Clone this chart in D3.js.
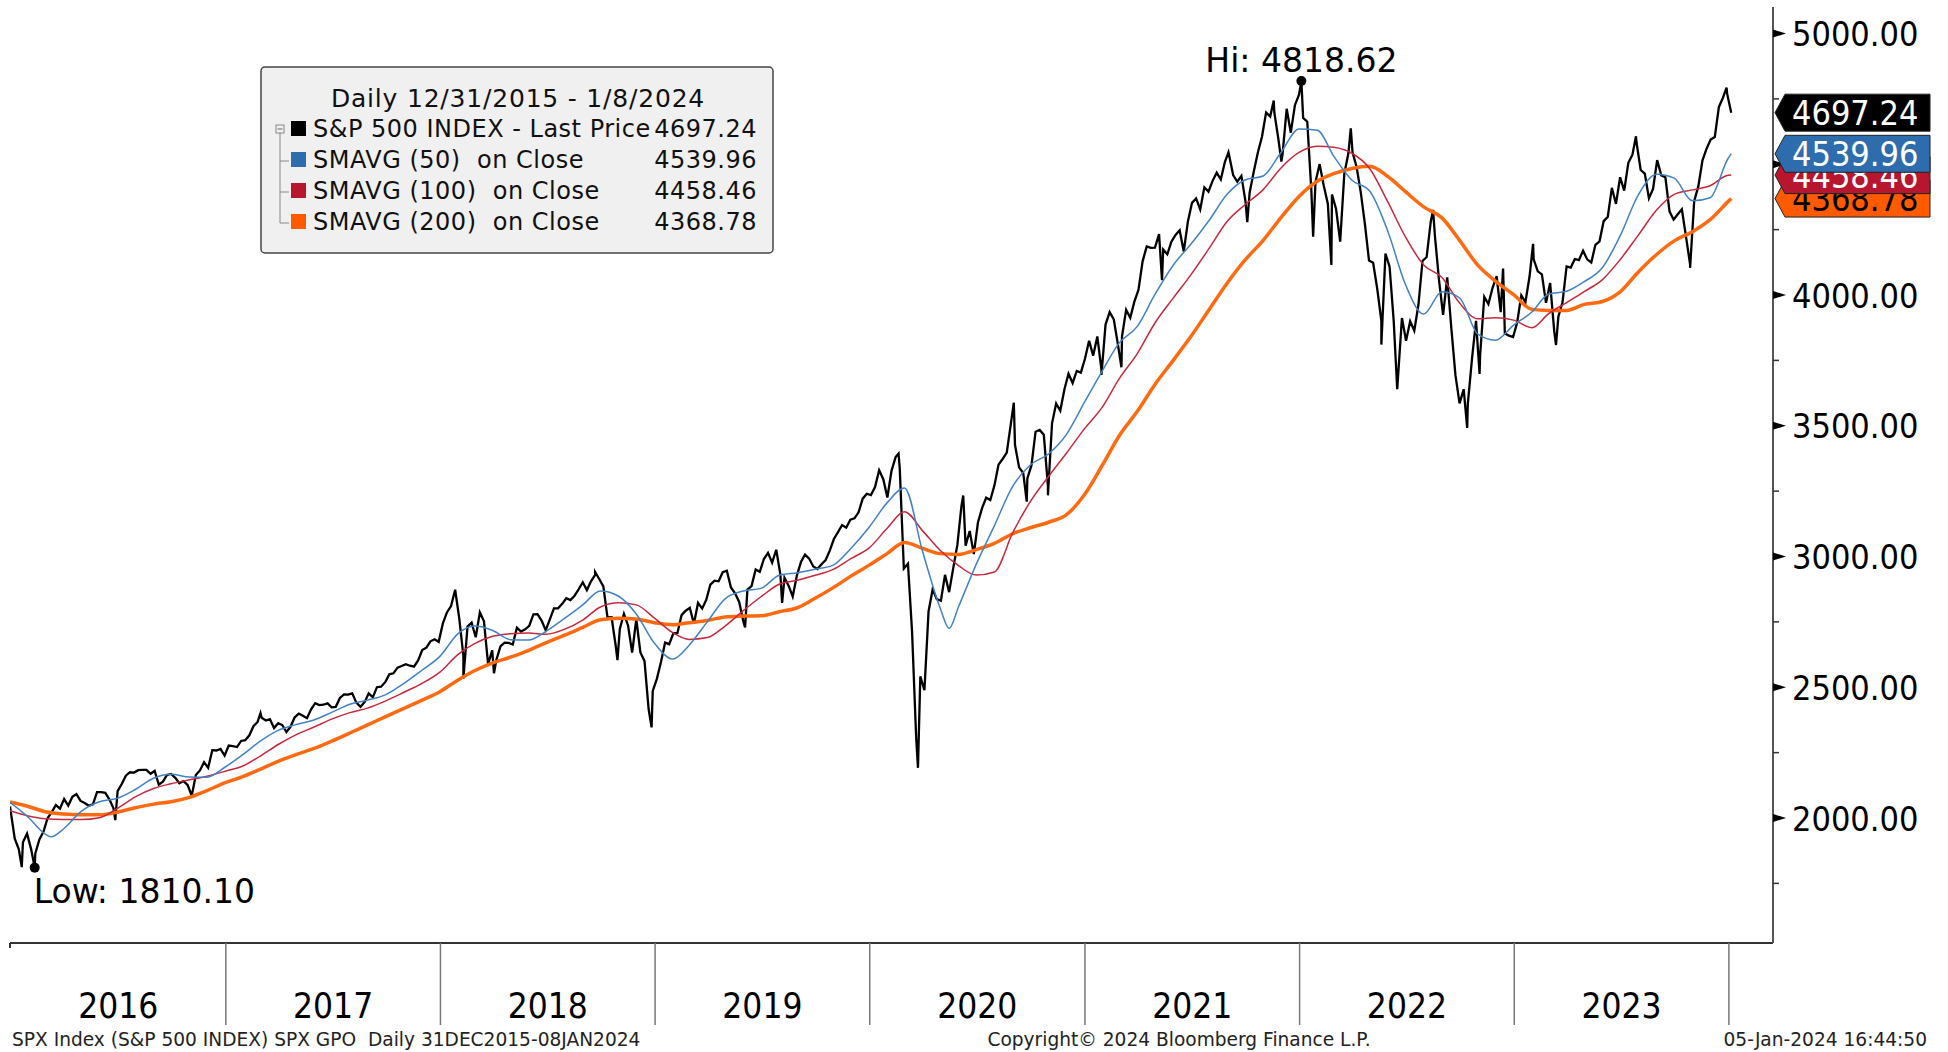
<!DOCTYPE html>
<html>
<head>
<meta charset="utf-8">
<script src="https://cdn.jsdelivr.net/npm/d3@7"></script>
<style>
  html, body { margin: 0; padding: 0; background: #fff; }
  svg { display: block; }
  text { font-family: "DejaVu Sans Condensed", "DejaVu Sans", sans-serif; font-stretch: condensed; }
  text.wide { font-family: "DejaVu Sans", sans-serif; font-stretch: normal; }
</style>
</head>
<body>
<svg id="chart" width="1948" height="1052"></svg>
<script>
// ---------------- data ----------------
// weekly (Friday) closes, S&P 500
const spxStart = [["2015-12-31", 2043.94]];
const spx2016 = [1922.03,1880.33,1906.90,1940.24,1880.05,1864.78,1917.78,1948.05,1999.99,2022.19,2049.58,2035.94,2072.78,2047.60,2080.73,2091.58,2065.30,2057.14,2046.61,2052.32,2099.06,2099.13,2096.07,2071.22,2037.41,2102.95,2129.90,2161.74,2175.03,2173.60,2182.87,2184.05,2183.87,2169.04,2179.98,2127.81,2139.16,2164.69,2168.27,2153.74,2132.98,2141.16,2126.41,2085.18,2164.45,2181.90,2213.35,2191.95,2259.53,2258.07,2263.79,2238.83];
const spx2017 = [2276.98,2274.64,2271.31,2294.69,2297.42,2316.10,2351.16,2367.34,2383.12,2372.60,2378.25,2343.98,2362.72,2355.54,2328.95,2348.69,2384.20,2399.29,2390.90,2381.73,2415.82,2439.07,2431.77,2433.15,2438.30,2423.41,2425.18,2459.27,2472.54,2472.10,2476.83,2441.32,2425.55,2443.05,2476.55,2461.43,2500.23,2502.22,2519.36,2549.33,2553.17,2575.21,2581.07,2587.84,2582.30,2578.85,2602.42,2642.22,2651.50,2675.81,2683.34,2673.61];
const spx2018 = [2743.15,2786.24,2810.30,2872.87,2762.13,2619.55,2732.22,2747.30,2691.25,2786.57,2752.01,2588.26,2640.87,2604.47,2656.30,2670.14,2669.91,2663.42,2727.72,2712.97,2721.33,2734.62,2779.03,2779.42,2754.88,2718.37,2759.82,2801.31,2801.83,2818.82,2840.35,2833.28,2850.13,2874.69,2901.52,2871.68,2904.98,2929.67,2913.98,2885.57,2767.13,2767.78,2658.69,2723.06,2781.01,2736.27,2632.56,2760.17,2633.08,2599.95,2416.62,2485.74];
const spx2019 = [2531.94,2596.26,2670.71,2664.76,2706.53,2707.88,2775.60,2792.67,2803.69,2743.07,2822.48,2800.71,2834.40,2892.74,2907.41,2905.03,2939.88,2945.64,2881.40,2859.53,2826.06,2752.06,2873.34,2886.98,2950.46,2941.76,2990.41,3013.77,2976.61,3025.86,2932.05,2918.65,2888.68,2847.11,2926.46,2978.71,3007.39,2992.07,2961.79,2952.01,2970.27,2986.20,3022.55,3066.91,3093.08,3120.46,3110.29,3140.98,3145.91,3168.80,3221.22,3240.02];
const spx2020 = [3234.85,3265.35,3329.62,3295.47,3225.52,3327.71,3380.16,3337.75,2954.22,2972.37,2711.02,2304.92,2541.47,2488.65,2789.82,2874.56,2836.74,2830.71,2929.80,2863.70,2955.45,3044.31,3193.93,3041.31,3097.74,3009.05,3130.01,3185.04,3224.73,3215.63,3271.12,3351.28,3372.85,3397.16,3508.01,3426.96,3340.97,3319.47,3298.46,3348.44,3477.13,3483.81,3465.39,3269.96,3509.44,3585.15,3557.54,3638.35,3699.12,3663.46,3709.41,3703.06,3756.07];
const spx2021 = [3824.68,3768.25,3841.47,3714.24,3886.83,3934.83,3906.71,3811.15,3841.94,3943.34,3913.10,3974.54,4019.87,4128.80,4185.47,4180.17,4181.17,4232.60,4173.85,4155.86,4204.11,4229.89,4247.44,4166.45,4280.70,4352.34,4369.55,4327.16,4411.79,4395.26,4436.52,4468.00,4441.67,4509.37,4535.43,4458.58,4432.99,4455.48,4357.04,4391.34,4471.37,4544.90,4605.38,4697.53,4682.85,4697.96,4594.62,4538.43,4712.02,4620.64,4725.79,4766.18];
const spx2022 = [4677.03,4662.85,4397.94,4431.85,4500.53,4418.64,4348.87,4384.65,4328.87,4204.31,4463.12,4543.06,4545.86,4488.28,4392.59,4271.78,4131.93,4123.34,4023.89,3901.36,4158.24,4108.54,3900.86,3674.84,3911.74,3825.33,3899.38,3863.16,3961.63,4130.29,4145.19,4280.15,4228.48,4057.66,3924.26,4067.36,3873.33,3693.23,3585.62,3639.66,3583.07,3752.75,3901.06,3770.55,3992.93,3965.34,4026.12,4071.70,3934.38,3852.36,3844.82,3839.50];
const spx2023 = [3895.08,3999.09,3972.61,4070.56,4136.48,4090.46,4079.09,3970.04,4045.64,3861.59,3916.64,3970.99,4109.31,4105.02,4137.64,4133.52,4169.48,4136.25,4124.08,4191.98,4205.45,4282.37,4298.86,4409.59,4348.33,4450.38,4398.95,4505.42,4536.34,4582.23,4478.03,4464.05,4369.71,4405.71,4515.77,4457.49,4450.32,4320.06,4288.05,4308.50,4327.78,4224.16,4117.37,4358.34,4415.24,4514.02,4559.34,4594.63,4604.37,4719.19,4754.63,4769.83];
const spx2024 = [4697.24];
// intraday extremes seen as spikes in the bars
const spxSpikes = [["2016-01-20",1812.29],["2016-02-11",1810.10],["2016-06-27",1991.68],["2016-11-04",2083.79],["2017-03-01",2400.98],["2018-01-26",2872.87],["2018-02-09",2532.69],["2018-04-02",2553.80],["2018-09-21",2940.91],["2018-10-29",2603.54],["2018-12-26",2346.58],["2019-06-03",2728.81],["2019-08-05",2822.12],["2020-02-19",3393.52],["2020-03-23",2191.86],["2020-06-08",3233.13],["2020-09-02",3588.11],["2020-09-24",3209.45],["2020-10-30",3233.94],["2021-01-29",3694.12],["2021-03-04",3723.34],["2021-05-12",4056.88],["2021-09-02",4545.85],["2021-10-04",4278.94],["2021-11-18",4743.83],["2021-12-01",4510.27],["2022-01-04",4818.62],["2022-01-24",4222.62],["2022-02-24",4114.65],["2022-03-29",4637.30],["2022-05-20",3810.32],["2022-06-16",3639.77],["2022-08-16",4325.28],["2022-10-13",3491.58],["2022-11-03",3698.15],["2022-12-13",4100.96],["2023-02-02",4195.44],["2023-03-13",3808.86],["2023-07-27",4607.07],["2023-10-27",4103.78],["2023-12-28",4793.30]];

// moving averages, month-end values Dec 2015 .. Dec 2023, then 5 Jan 2024
const sma50 = [2060,
  2003,1938,1958,2025,2062,2075,2109,2152,2167,2157,2156,2195,
  2244,2293,2335,2357,2375,2404,2435,2451,2472,2515,2564,2618,
  2705,2734,2717,2682,2681,2715,2763,2815,2868,2848,2780,2668,
  2608,2661,2751,2838,2868,2878,2928,2938,2951,2967,3031,3112,
  3207,3262,3018,2801,2808,2970,3118,3268,3350,3392,3465,3589,
  3712,3816,3880,4002,4114,4194,4285,4386,4440,4455,4544,4635,
  4630,4531,4439,4398,4244,4040,3927,4012,3989,3850,3827,3885,
  3935,4003,4014,4051,4105,4226,4383,4462,4447,4360,4372,4524,
  4539.96];
const sma50Extra = [["2016-03-10",1928],["2020-05-15",2725]];
const sma100 = [2028,
  2008,1997,1994,1994,2001,2036,2081,2113,2131,2146,2160,2179,
  2200,2236,2281,2318,2348,2378,2403,2421,2448,2481,2514,2558,
  2626,2667,2695,2705,2707,2703,2722,2757,2807,2823,2815,2764,
  2709,2683,2690,2734,2793,2846,2894,2909,2928,2951,2992,3033,
  3109,3171,3098,3023,2965,2929,2941,3090,3210,3306,3394,3488,
  3573,3679,3776,3893,3988,4077,4178,4282,4345,4403,4485,4545,
  4569,4565,4542,4484,4356,4222,4115,4067,3969,3909,3913,3904,
  3875,3928,3971,4013,4059,4135,4229,4325,4385,4402,4418,4458,
  4458.46];
const sma200 = [2061,
  2044,2024,2015,2012,2012,2022,2039,2053,2062,2079,2105,2135,
  2159,2186,2217,2242,2266,2294,2325,2357,2388,2419,2450,2483,
  2528,2563,2593,2615,2641,2671,2699,2729,2758,2764,2761,2747,
  2739,2747,2755,2769,2772,2773,2789,2804,2840,2881,2925,2967,
  3012,3054,3031,3011,3008,3026,3050,3087,3110,3131,3159,3236,
  3351,3461,3555,3658,3750,3841,3944,4046,4133,4209,4295,4377,
  4435,4464,4484,4492,4453,4395,4337,4295,4209,4114,4053,4001,
  3945,3941,3941,3964,3975,4012,4088,4155,4207,4242,4288,4358,
  4368.78];

const seriesNames = ["S&P 500 INDEX - Last Price", "SMAVG (50)  on Close", "SMAVG (100)  on Close", "SMAVG (200)  on Close"];
const lastValues = [4697.24, 4539.96, 4458.46, 4368.78];
const seriesColors = ["#000000", "#2e6dad", "#b8152e", "#ff5a00"];
const yTickValues = [2000, 2500, 3000, 3500, 4000, 4500, 5000];
const yMinorTicks = [1750, 2250, 2750, 3250, 3750, 4250, 4750];
const yearLabels = ["2016", "2017", "2018", "2019", "2020", "2021", "2022", "2023"];
const hiPoint = ["2022-01-04", 4818.62];
const lowPoint = ["2016-02-11", 1810.10];

// ---------------- chart ----------------
const svg = d3.select("#chart");
const parse = d3.utcParse("%Y-%m-%d");
const plotLeft = 10, plotRight = 1773, plotTop = 7, plotBottom = 943;

const x = d3.scaleUtc()
  .domain([parse("2015-12-31"), parse("2024-03-16")])
  .range([plotLeft, plotRight]);
const y = d3.scaleLinear().domain([2000, 5000]).range([818, 33.5]);

// price points: start, weekly closes, spikes
const weekly = [].concat(spx2016, spx2017, spx2018, spx2019, spx2020, spx2021, spx2022, spx2023, spx2024);
const firstFriday = parse("2016-01-08");
let pricePts = spxStart.map(d => [parse(d[0]), d[1]]);
weekly.forEach((v, i) => pricePts.push([d3.utcFriday.offset(firstFriday, i), v]));
spxSpikes.forEach(d => pricePts.push([parse(d[0]), d[1]]));
pricePts.sort((a, b) => a[0] - b[0]);

// month-end dates for the averages
const maDates = d3.range(97)
  .map(i => d3.utcDay.offset(d3.utcMonth.offset(parse("2016-01-01"), i), -1))
  .concat([parse("2024-01-05")]);
const toPts = (vals, extra) => {
  const pts = vals.map((v, i) => [maDates[i], v]);
  (extra || []).forEach(d => pts.push([parse(d[0]), d[1]]));
  return pts.sort((a, b) => a[0] - b[0]);
};

svg.append("defs").append("clipPath").attr("id", "plotClip")
  .append("rect")
  .attr("x", plotLeft).attr("y", plotTop)
  .attr("width", plotRight - plotLeft).attr("height", plotBottom - plotTop);

const plotG = svg.append("g").attr("clip-path", "url(#plotClip)");

const priceLine = d3.line().x(d => x(d[0])).y(d => y(d[1]));
const maLine = d3.line().x(d => x(d[0])).y(d => y(d[1])).curve(d3.curveMonotoneX);

plotG.append("path")
  .datum(pricePts)
  .attr("fill", "none")
  .attr("stroke", "#000")
  .attr("stroke-width", 2.3)
  .attr("stroke-linejoin", "miter")
  .attr("d", priceLine);

// moving averages
plotG.append("path").datum(toPts(sma200))
  .attr("fill", "none").attr("stroke", "#ff6a10").attr("stroke-width", 3.5)
  .attr("d", maLine);
plotG.append("path").datum(toPts(sma100))
  .attr("fill", "none").attr("stroke", "#c8283c").attr("stroke-width", 1.5)
  .attr("d", maLine);
plotG.append("path").datum(toPts(sma50, sma50Extra))
  .attr("fill", "none").attr("stroke", "#4282c4").attr("stroke-width", 1.5)
  .attr("d", maLine);

// Hi / Low markers
const hiX = x(parse(hiPoint[0])), hiY = y(hiPoint[1]);
svg.append("circle").attr("cx", hiX).attr("cy", hiY).attr("r", 5).attr("fill", "#000");
svg.append("text").attr("class", "wide").attr("x", hiX).attr("y", hiY - 9)
  .attr("text-anchor", "middle").attr("font-size", 33).attr("fill", "#000")
  .style("white-space", "pre")
  .text("Hi: " + d3.format(".2f")(hiPoint[1]));

const lowX = x(parse(lowPoint[0])), lowY = y(lowPoint[1]);
svg.append("circle").attr("cx", lowX).attr("cy", lowY).attr("r", 5).attr("fill", "#000");
svg.append("text").attr("class", "wide").attr("x", lowX - 1).attr("y", lowY + 35)
  .attr("font-size", 33).attr("fill", "#000")
  .style("white-space", "pre")
  .text("Low: " + d3.format(".2f")(lowPoint[1]));

// bottom axis line and year separators
svg.append("line")
  .attr("x1", plotLeft).attr("x2", plotRight)
  .attr("y1", plotBottom).attr("y2", plotBottom)
  .attr("stroke", "#333").attr("stroke-width", 2);
svg.append("line")
  .attr("x1", plotLeft).attr("x2", plotLeft)
  .attr("y1", plotBottom).attr("y2", plotBottom + 5)
  .attr("stroke", "#333").attr("stroke-width", 2);

const yearStarts = yearLabels.map(yr => parse(yr + "-01-01"));
const yearEnds = yearLabels.map(yr => parse((+yr + 1) + "-01-01"));
svg.append("g").selectAll("line")
  .data(yearEnds)
  .enter().append("line")
  .attr("x1", d => x(d)).attr("x2", d => x(d))
  .attr("y1", plotBottom).attr("y2", 1025)
  .attr("stroke", "#777").attr("stroke-width", 1.5);

svg.append("g").selectAll("text")
  .data(yearLabels)
  .enter().append("text")
  .attr("x", (d, i) => (x(d3.max([yearStarts[i], parse("2015-12-31")])) + x(yearEnds[i])) / 2)
  .attr("y", 1018)
  .attr("text-anchor", "middle")
  .attr("font-size", 35)
  .attr("fill", "#000")
  .text(d => d);

// right axis
svg.append("line")
  .attr("x1", plotRight).attr("x2", plotRight)
  .attr("y1", plotTop).attr("y2", plotBottom)
  .attr("stroke", "#555").attr("stroke-width", 2);

svg.append("g").selectAll("line")
  .data(yMinorTicks)
  .enter().append("line")
  .attr("x1", plotRight).attr("x2", plotRight + 6)
  .attr("y1", d => y(d)).attr("y2", d => y(d))
  .attr("stroke", "#333").attr("stroke-width", 1.5);

svg.append("g").selectAll("path")
  .data(yTickValues)
  .enter().append("path")
  .attr("d", d => `M${plotRight},${y(d) - 4}L${plotRight + 13},${y(d)}L${plotRight},${y(d) + 4}Z`)
  .attr("fill", "#000");

svg.append("g").selectAll("text")
  .data(yTickValues)
  .enter().append("text")
  .attr("x", plotRight + 19)
  .attr("y", d => y(d) + 12.5)
  .attr("font-size", 34)
  .attr("fill", "#000")
  .text(d => d3.format(".2f")(d));

// last value tags (drawn bottom-most first)
const tagH = 37;
const tagOrder = [3, 2, 1, 0];
const tags = svg.append("g");
tagOrder.forEach(i => {
  const cy = y(lastValues[i]);
  tags.append("path")
    .attr("d", `M${plotRight + 2},${cy}L${plotRight + 12},${cy - tagH / 2}L1930,${cy - tagH / 2}L1930,${cy + tagH / 2}L${plotRight + 12},${cy + tagH / 2}Z`)
    .attr("fill", seriesColors[i])
    .attr("stroke", "#222").attr("stroke-width", 1);
  tags.append("text")
    .attr("x", plotRight + 19)
    .attr("y", cy + 12.5)
    .attr("font-size", 34)
    .attr("fill", i === 3 ? "#000" : "#fff")
    .text(d3.format(".2f")(lastValues[i]));
});

// legend
const lg = svg.append("g");
lg.append("rect")
  .attr("x", 261).attr("y", 67).attr("width", 512).attr("height", 186)
  .attr("rx", 4)
  .attr("fill", "#f0f0f0").attr("stroke", "#444").attr("stroke-width", 1.5);
lg.append("text").attr("class", "wide")
  .attr("x", 518).attr("y", 107)
  .attr("text-anchor", "middle").attr("font-size", 25).attr("fill", "#111")
  .attr("letter-spacing", 0.8)
  .text("Daily 12/31/2015 - 1/8/2024");

const rowY = i => 137 + i * 31;
lg.append("line")
  .attr("x1", 280).attr("x2", 280)
  .attr("y1", rowY(0) - 4).attr("y2", rowY(3) - 7)
  .attr("stroke", "#888").attr("stroke-width", 1);
lg.append("rect")
  .attr("x", 276).attr("y", rowY(0) - 12).attr("width", 8).attr("height", 8)
  .attr("fill", "#f0f0f0").attr("stroke", "#888").attr("stroke-width", 1);
lg.append("line")
  .attr("x1", 277.5).attr("x2", 282.5)
  .attr("y1", rowY(0) - 8).attr("y2", rowY(0) - 8)
  .attr("stroke", "#666").attr("stroke-width", 1);

const rows = lg.selectAll("g.row")
  .data(seriesNames)
  .enter().append("g").attr("class", "row");
rows.filter((d, i) => i > 0).append("line")
  .attr("x1", 280).attr("x2", 289)
  .attr("y1", (d, i) => rowY(i + 1) - 7).attr("y2", (d, i) => rowY(i + 1) - 7)
  .attr("stroke", "#888").attr("stroke-width", 1);
rows.append("rect")
  .attr("x", 291).attr("y", (d, i) => rowY(i) - 16)
  .attr("width", 15).attr("height", 15)
  .attr("fill", (d, i) => seriesColors[i]);
rows.append("text").attr("class", "wide")
  .attr("x", 313).attr("y", (d, i) => rowY(i))
  .attr("font-size", 24).attr("fill", "#111")
  .attr("letter-spacing", 0.5)
  .style("white-space", "pre")
  .text(d => d);
rows.append("text").attr("class", "wide")
  .attr("x", 757).attr("y", (d, i) => rowY(i))
  .attr("text-anchor", "end")
  .attr("font-size", 24).attr("fill", "#111")
  .attr("letter-spacing", 0.5)
  .text((d, i) => d3.format(".2f")(lastValues[i]));

// footer
const foot = svg.append("g").attr("font-size", 18.6).attr("fill", "#222");
foot.append("text").attr("class", "wide").attr("x", 12).attr("y", 1046)
  .style("white-space", "pre")
  .text("SPX Index (S&P 500 INDEX) SPX GPO  Daily 31DEC2015-08JAN2024");
foot.append("text").attr("class", "wide").attr("x", 1179).attr("y", 1046).attr("text-anchor", "middle")
  .text("Copyright\u00a9 2024 Bloomberg Finance L.P.");
foot.append("text").attr("class", "wide").attr("x", 1927).attr("y", 1046).attr("text-anchor", "end")
  .text("05-Jan-2024 16:44:50");
</script>
</body>
</html>
